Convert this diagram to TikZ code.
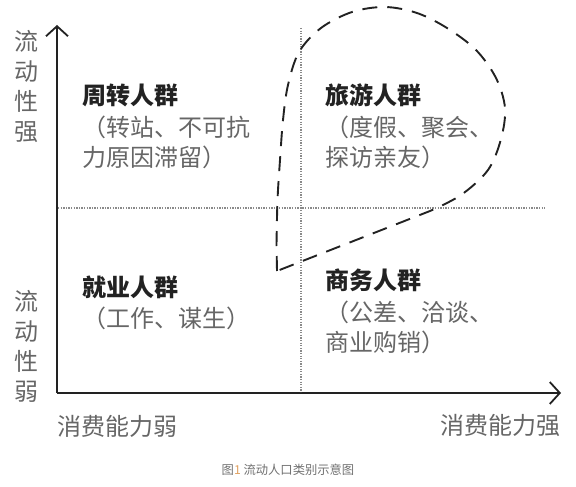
\documentclass[tikz,border=0pt]{standalone}
\usepackage{fontspec}
\setmainfont{Noto Sans CJK SC}
\usetikzlibrary{arrows.meta}
\definecolor{txtdark}{HTML}{222222}
\definecolor{txtgray}{HTML}{666666}
\definecolor{dotgray}{HTML}{8A8A8A}
\definecolor{capgray}{HTML}{707070}
\definecolor{caporange}{HTML}{E0A060}
\tikzset{
  axis/.style={line width=2pt, draw=txtdark, -{Straight Barb[length=10pt,width=22pt,line width=1.8pt]}},
  divider/.style={line width=1.6pt, draw=dotgray, dash pattern=on 1.3pt off 1.3pt},
  loopline/.style={line width=1.9pt, draw=txtdark, dash pattern=on 15pt off 10pt, line join=miter},
  title/.style={anchor=west, inner sep=0pt, font=\fontsize{24}{24}\selectfont\bfseries, text=txtdark},
  sub/.style={anchor=west, inner sep=0pt, font=\fontsize{24}{24}\selectfont, text=txtgray},
  vlabel/.style={inner sep=0pt, align=center, font=\fontsize{24}{30}\selectfont, text=txtgray},
  hlabel/.style={inner sep=0pt, font=\fontsize{24}{24}\selectfont, text=txtgray},
  caption/.style={inner sep=0pt, font=\fontsize{12.3}{12.3}\selectfont, text=capgray}
}
\begin{document}
\begin{tikzpicture}[x=1pt,y=-1pt]
\useasboundingbox (0,0) rectangle (576,487);
% axes
\coordinate (O) at (57,393);
\coordinate (ytip) at (57,25);
\coordinate (xtip) at (561,393);
\draw[axis] (O) -- (ytip);
\draw[axis] (O) -- (xtip);
% dividers
\coordinate (vtop) at (301,28);
\coordinate (vbot) at (301,392);
\coordinate (hl) at (58,208);
\coordinate (hr) at (545,208);
\draw[divider] (vtop) -- (vbot);
\draw[divider] (hl) -- (hr);
% dashed teardrop
\coordinate (tip) at (277,271);
\draw[loopline] (tip) -- plot[smooth, tension=0.55] coordinates {
  (276.5,245) (277.5,200) (280,160) (283,120) (288,85) (299,52) (321,28)
  (352,12) (385,7) (417,13) (447,28) (476,50) (496,78) (505,108)
  (501,139) (488,170) (461,195) (430,211)} -- (tip) -- cycle;
% axis labels
\node[vlabel] (ys) at (27,86) {流\\动\\性\\强};
\node[vlabel] (yw) at (27,346) {流\\动\\性\\弱};
\node[hlabel, anchor=west] (xw) at (57,426) {消费能力弱};
\node[hlabel, anchor=east] (xs) at (561,425) {消费能力强};
% quadrants
\node[title] (q1t) at (82,95) {周转人群};
\node[sub] (q1a) at (82,127) {（转站、不可抗};
\node[sub] (q1b) at (82,157) {力原因滞留）};
\node[title] (q2t) at (325,95) {旅游人群};
\node[sub] (q2a) at (325,127) {（度假、聚会、};
\node[sub] (q2b) at (325,157) {探访亲友）};
\node[title] (q3t) at (82,287) {就业人群};
\node[sub] (q3a) at (82,318) {（工作、谋生）};
\node[title] (q4t) at (325,280) {商务人群};
\node[sub] (q4a) at (325,312) {（公差、洽谈、};
\node[sub] (q4b) at (325,342) {商业购销）};
% caption
\node[caption] (cap) at (288,470) {图{\color{caporange}1} 流动人口类别示意图};
\end{tikzpicture}
\end{document}
